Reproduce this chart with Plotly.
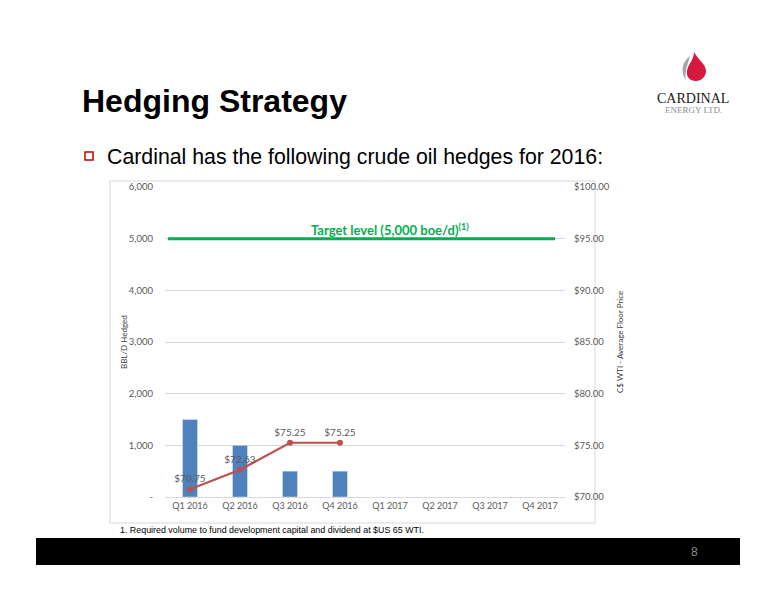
import plotly.graph_objects as go

# ---- data ----
quarters = ["Q1 2016", "Q2 2016", "Q3 2016", "Q4 2016", "Q1 2017", "Q2 2017", "Q3 2017", "Q4 2017"]
bbl_hedged = [1500, 1000, 500, 500, None, None, None, None]
floor_price = [70.75, 72.63, 75.25, 75.25, None, None, None, None]
target_level = 5000
left_ticks = [0, 1000, 2000, 3000, 4000, 5000, 6000]
left_ticktext = ["-", "1,000", "2,000", "3,000", "4,000", "5,000", "6,000"]
right_ticks = [70, 75, 80, 85, 90, 95, 100]
right_ticktext = ["$70.00", "$75.00", "$80.00", "$85.00", "$90.00", "$95.00", "$100.00"]

W, H = 776, 600
OFF = 8  # page body offset
# plot area in page pixels: x 165..565, y 187..497
PL, PR, PT, PB = 165, 565, 187, 497
L = PL - OFF
T = PT - OFF
R = W - (PR - OFF)
B = H - (PB - OFF)


def px(x):
    return (x - PL) / (PR - PL)


def py(y):
    return (PB - y) / (PB - PT)


GRAY = "#595959"
CHART_FONT = "Lato, Open Sans, sans-serif"
SANS = "Liberation Sans, Arial, sans-serif"

price_q = [q for q, v in zip(quarters, floor_price) if v is not None]
price_v = [v for v in floor_price if v is not None]

fig = go.Figure()
fig.add_trace(go.Bar(
    x=quarters, y=bbl_hedged, marker_color="#4f81bd", width=0.3,
    name="BBL/D Hedged", yaxis="y",
))
fig.add_trace(go.Scatter(
    x=price_q, y=price_v, mode="lines+markers+text",
    line=dict(color="#c0504d", width=2.2), marker=dict(color="#c0504d", size=6),
    text=[f"${v:.2f}" for v in price_v],
    textposition="top center", textfont=dict(family=CHART_FONT, size=10, color=GRAY),
    yaxis="y2", name="Floor price", cliponaxis=False,
))

shapes = []
annotations = []

# chart box
shapes.append(dict(type="rect", xref="paper", yref="paper", x0=px(110), x1=px(595), y0=py(523), y1=py(181),
                   line=dict(color="#d9d9d9", width=1), fillcolor="rgba(0,0,0,0)", layer="below"))
# target line
shapes.append(dict(type="line", xref="paper", yref="y", x0=px(168), x1=px(555), y0=target_level, y1=target_level,
                   line=dict(color="#00b050", width=3)))
annotations.append(dict(xref="paper", yref="paper", x=px(390), y=py(229), xanchor="center", yanchor="middle",
                        text="<b>Target level (5,000 boe/d)<sup>(1)</sup></b>", showarrow=False,
                        font=dict(family=CHART_FONT, size=13, color="#00b050")))
# axis titles
annotations.append(dict(xref="paper", yref="paper", x=px(124), y=py(342), xanchor="center", yanchor="middle",
                        text="BBL/D Hedged", textangle=-90, showarrow=False,
                        font=dict(family=CHART_FONT, size=8, color="#404040")))
annotations.append(dict(xref="paper", yref="paper", x=px(620), y=py(342), xanchor="center", yanchor="middle",
                        text="C$ WTI - Average Floor Price", textangle=-90, showarrow=False,
                        font=dict(family=CHART_FONT, size=8, color="#404040")))

# page title & bullet
annotations.append(dict(xref="paper", yref="paper", x=px(80), y=py(101), xanchor="left", yanchor="middle",
                        text="<b>Hedging Strategy</b>", showarrow=False,
                        font=dict(family=SANS, size=32, color="#000000")))
shapes.append(dict(type="rect", xref="paper", yref="paper", x0=px(85), x1=px(93), y0=py(160), y1=py(152),
                   line=dict(color="#c00000", width=1.5), fillcolor="white"))
annotations.append(dict(xref="paper", yref="paper", x=px(105), y=py(157), xanchor="left", yanchor="middle",
                        text="Cardinal has the following crude oil hedges for 2016:", showarrow=False,
                        font=dict(family=SANS, size=21.3, color="#000000")))
# footnote
annotations.append(dict(xref="paper", yref="paper", x=px(118), y=py(530), xanchor="left", yanchor="middle",
                        text="1. Required volume to fund development capital and dividend at $US 65 WTI.",
                        showarrow=False, font=dict(family=SANS, size=8.9, color="#000000")))
# footer bar
shapes.append(dict(type="rect", xref="paper", yref="paper", x0=px(36), x1=px(740), y0=py(565), y1=py(538),
                   line=dict(width=0), fillcolor="#000000"))
annotations.append(dict(xref="paper", yref="paper", x=px(694), y=py(552), xanchor="center", yanchor="middle",
                        text="8", showarrow=False, font=dict(family=SANS, size=12, color="#8c8c8c")))

# logo
gray_flame = (f"M {px(690)},{py(56)} C {px(682)},{py(62)} {px(680)},{py(72)} {px(686)},{py(80)} "
              f"C {px(684)},{py(72)} {px(688)},{py(64)} {px(690)},{py(56)} Z")
shapes.append(dict(type="path", xref="paper", yref="paper", path=gray_flame,
                   fillcolor="#a6a6a6", line=dict(width=0)))
drop = (f"M {px(694)},{py(52)} C {px(698)},{py(60)} {px(706)},{py(64)} {px(706)},{py(71)} "
        f"C {px(706)},{py(77)} {px(701)},{py(81)} {px(696)},{py(81)} "
        f"C {px(690)},{py(81)} {px(686)},{py(77)} {px(687)},{py(71)} "
        f"C {px(688)},{py(64)} {px(694)},{py(60)} {px(694)},{py(52)} Z")
shapes.append(dict(type="path", xref="paper", yref="paper", path=drop,
                   fillcolor="#d7193f", line=dict(width=0)))
annotations.append(dict(xref="paper", yref="paper", x=px(693), y=py(99), xanchor="center", yanchor="middle",
                        text="CARDINAL", showarrow=False,
                        font=dict(family="Liberation Serif, DejaVu Serif, serif", size=14, color="#1a1a1a")))
annotations.append(dict(xref="paper", yref="paper", x=px(693), y=py(110), xanchor="center", yanchor="middle",
                        text="ENERGY LTD.", showarrow=False,
                        font=dict(family="Liberation Serif, DejaVu Serif, serif", size=9, color="#8c8c8c")))

fig.update_layout(
    width=W, height=H, margin=dict(l=L, r=R, t=T, b=B, autoexpand=False),
    paper_bgcolor="white", plot_bgcolor="white", showlegend=False,
    bargap=0.7,
    xaxis=dict(type="category", categoryorder="array", categoryarray=quarters,
               showline=True, linecolor="#d9d9d9", ticks="", showgrid=False,
               tickfont=dict(family=CHART_FONT, size=9, color=GRAY), range=[-0.5, 7.5]),
    yaxis=dict(range=[0, 6000], tickvals=left_ticks, ticktext=left_ticktext,
               showgrid=True, gridcolor="#d9d9d9", gridwidth=1, zeroline=False, showline=False,
               ticks="", ticklabelstandoff=11,
               tickfont=dict(family=CHART_FONT, size=9.5, color=GRAY)),
    yaxis2=dict(range=[70, 100], tickvals=right_ticks, ticktext=right_ticktext, overlaying="y", side="right",
                showgrid=False, zeroline=False, showline=False, ticks="", ticklabelstandoff=8,
                tickfont=dict(family=CHART_FONT, size=9.5, color=GRAY)),
    shapes=shapes, annotations=annotations,
)

fig.write_html("out.html")
